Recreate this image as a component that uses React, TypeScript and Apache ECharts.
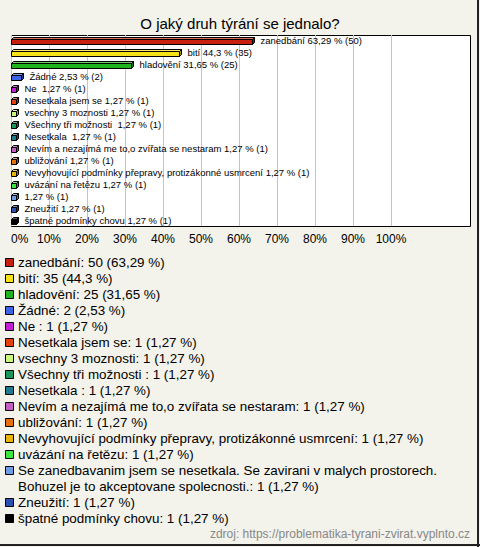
import React, { useEffect, useRef } from 'react';
import * as echarts from 'echarts';

const TITLE = 'O jaký druh týrání se jednalo?';
const SOURCE = 'zdroj: https://problematika-tyrani-zvirat.vyplnto.cz';

const categories = [
  'zanedbání',
  'bití',
  'hladovění',
  'Žádné',
  'Ne ',
  'Nesetkala jsem se',
  'vsechny 3 moznosti',
  'Všechny tři možnosti ',
  'Nesetkala ',
  'Nevím a nezajímá me to,o zvířata se nestaram',
  'ubližování',
  'Nevyhovující podmínky přepravy, protizákonné usmrcení',
  'uvázání na řetězu',
  'Se zanedbavanim jsem se nesetkala. Se zavirani v malych prostorech. Bohuzel je to akceptovane spolecnosti.',
  'Zneužití',
  'špatné podmínky chovu',
];
const counts = [50, 35, 25, 2, 1, 1, 1, 1, 1, 1, 1, 1, 1, 1, 1, 1];
const percents = [63.29, 44.3, 31.65, 2.53, 1.27, 1.27, 1.27, 1.27, 1.27, 1.27, 1.27, 1.27, 1.27, 1.27, 1.27, 1.27];
const colors = [
  '#c8200e', '#f7e21a', '#1db41d', '#3b63e6', '#c41ed6', '#e5410f', '#c9f77c', '#19965a',
  '#1f7a8f', '#c45ec4', '#e6700f', '#e8b40c', '#3ce63c', '#6f9be6', '#2c4fb4', '#000000',
];
const AXIS_MIN = 0;
const AXIS_MAX = 100;
const AXIS_STEP = 10;

const FONT = '"Liberation Sans", Arial, sans-serif';

function pctStr(p: number) {
  return String(p).replace('.', ',');
}

function shade(hex: string, f: number) {
  const n = parseInt(hex.slice(1), 16);
  let r = (n >> 16) & 255, g = (n >> 8) & 255, b = n & 255;
  const m = (c: number) => (f >= 0 ? Math.round(c + (255 - c) * f) : Math.round(c * (1 + f)));
  r = m(r); g = m(g); b = m(b);
  return `rgb(${r},${g},${b})`;
}

function wrap(text: string, maxChars: number) {
  const words = text.split(' ');
  const lines: string[] = [];
  let cur = '';
  for (const w of words) {
    const next = cur ? cur + ' ' + w : w;
    if (next.length > maxChars && cur) {
      lines.push(cur);
      cur = w;
    } else cur = next;
  }
  if (cur) lines.push(cur);
  return lines;
}

export default function App() {
  const ref = useRef<HTMLDivElement>(null);
  useEffect(() => {
    if (!ref.current) return;
    const chart = echarts.init(ref.current, null, { renderer: 'svg' });

    const GRID_LEFT = 11, GRID_TOP = 35, GRID_W = 380, GRID_H = 191;
    const BOX_RIGHT = 470;

    const legendEls: any[] = [];
    let y = 262;
    categories.forEach((name, i) => {
      const text = `${name}: ${counts[i]} (${pctStr(percents[i])} %)`;
      const lines = wrap(text, 68);
      legendEls.push({
        type: 'rect',
        shape: { x: 5.5, y: Math.round(y - 4.5) + 0.5, width: 8, height: 8 },
        style: { fill: colors[i], stroke: '#000', lineWidth: 1 },
      });
      legendEls.push({
        type: 'text',
        x: 18,
        y: y - 8,
        style: {
          text: lines.join('\n'),
          fill: '#000',
          font: `13.4px ${FONT}`,
          lineHeight: 16,
          verticalAlign: 'top',
        },
      });
      y += 16 * lines.length;
    });

    const option: any = {
      animation: false,
      backgroundColor: '#f3f2eb',
      title: {
        text: TITLE,
        left: 'center',
        top: 11,
        textStyle: { fontFamily: FONT, fontSize: 15, fontWeight: 'normal', color: '#000' },
      },
      grid: { left: GRID_LEFT, top: GRID_TOP, width: GRID_W, height: GRID_H, containLabel: false },
      xAxis: {
        type: 'value',
        min: AXIS_MIN,
        max: AXIS_MAX,
        interval: AXIS_STEP,
        axisLine: { show: false },
        axisTick: { show: false },
        splitLine: { show: true, lineStyle: { color: '#c4c4c4', width: 1 } },
        axisLabel: {
          formatter: '{value}%',
          color: '#000',
          fontFamily: FONT,
          fontSize: 12,
          margin: 7,
          alignMinLabel: 'left',
        },
      },
      yAxis: {
        type: 'category',
        data: categories,
        inverse: true,
        show: false,
      },
      graphic: [
        {
          type: 'rect',
          z: -10,
          silent: true,
          shape: { x: GRID_LEFT + 0.5, y: GRID_TOP + 0.5, width: BOX_RIGHT - GRID_LEFT, height: GRID_H },
          style: { fill: '#ffffff', stroke: '#000', lineWidth: 1 },
        },
        {
          type: 'text',
          right: 10,
          top: 528,
          style: { text: SOURCE, fill: '#888888', font: `12px ${FONT}` },
        },
        {
          type: 'line',
          shape: { x1: 478, y1: 0, x2: 478, y2: 547 },
          style: { stroke: '#222', lineWidth: 2 },
        },
        {
          type: 'line',
          shape: { x1: 0, y1: 545, x2: 480, y2: 545 },
          style: { stroke: '#222', lineWidth: 2 },
        },
        ...legendEls,
      ],
      series: [
        {
          type: 'custom',
          clip: false,
          data: percents.map((p, i) => [p, i]),
          renderItem: (params: any, api: any) => {
            const i = params.dataIndex;
            const v = api.value(0);
            const idx = api.value(1);
            const s = api.coord([0, idx]);
            const e = api.coord([v, idx]);
            const d = 2, h = 5;
            const x0 = Math.round(s[0]) + 0.5;
            const x1 = Math.round(e[0]) + 0.5;
            const yT = Math.round(s[1] - 1.5) + 0.5;
            const yB = yT + h;
            const c = colors[i];
            const name = categories[i].length > 80 ? '' : categories[i];
            const label = `${name} ${pctStr(percents[i])} % (${counts[i]})`.trim();
            return {
              type: 'group',
              children: [
                {
                  type: 'rect',
                  shape: { x: x0, y: yT, width: x1 - x0, height: h },
                  style: { fill: c, stroke: '#000', lineWidth: 1 },
                },
                {
                  type: 'polygon',
                  shape: { points: [[x0, yT], [x0 + d, yT - d], [x1 + d, yT - d], [x1, yT]] },
                  style: { fill: shade(c, 0.35), stroke: '#000', lineWidth: 1 },
                },
                {
                  type: 'polygon',
                  shape: { points: [[x1, yT], [x1 + d, yT - d], [x1 + d, yB - d], [x1, yB]] },
                  style: { fill: shade(c, -0.35), stroke: '#000', lineWidth: 1 },
                },
                {
                  type: 'text',
                  x: x1 + d + 6,
                  y: s[1],
                  style: {
                    text: label,
                    fill: '#000',
                    font: `9.5px ${FONT}`,
                    verticalAlign: 'middle',
                    align: 'left',
                  },
                },
              ],
            };
          },
        },
      ],
    };
    chart.setOption(option);
    return () => chart.dispose();
  }, []);
  return (
    <div
      ref={ref}
      style={{ position: 'fixed', left: 0, top: 0, width: 480, height: 547 }}
    />
  );
}
